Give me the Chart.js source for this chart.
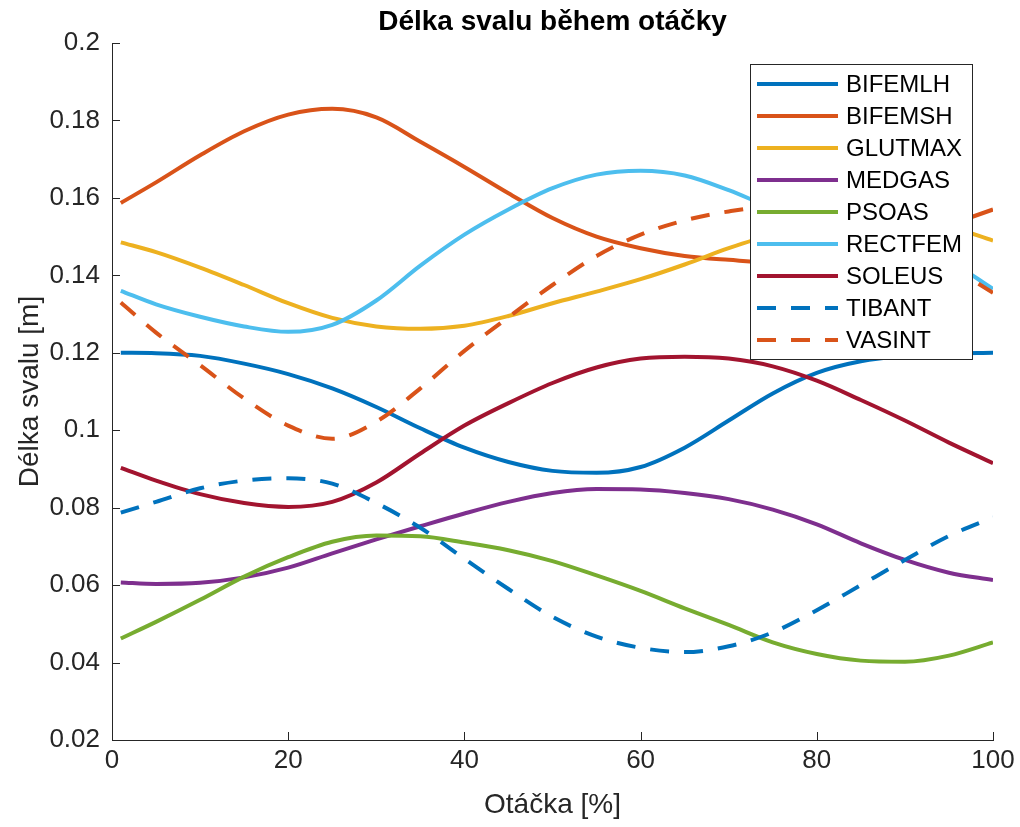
<!DOCTYPE html>
<html><head><meta charset="utf-8">
<script src="https://cdn.jsdelivr.net/npm/chart.js@4.4.1/dist/chart.umd.min.js"></script>
<style>html,body{margin:0;padding:0;background:#fff;}canvas{display:block;}</style>
</head><body>
<canvas id="c" width="1020" height="827"></canvas>
<script>
const xPct = [1,5,10,15,20,25,30,35,40,45,50,55,60,65,70,75,80,85,90,95,100];
const BIFEMLH = [0.1200,0.1199,0.1192,0.1172,0.1145,0.1108,0.1060,0.1005,0.0955,0.0918,0.0895,0.0890,0.0905,0.0955,0.1025,0.1095,0.1148,0.1178,0.1192,0.1198,0.1200];
const BIFEMSH = [0.1587,0.1640,0.1710,0.1772,0.1815,0.1830,0.1808,0.1745,0.1680,0.1612,0.1548,0.1500,0.1470,0.1450,0.1440,0.1433,0.1437,0.1460,0.1490,0.1530,0.1570];
const GLUTMAX = [0.1485,0.1460,0.1420,0.1375,0.1328,0.1290,0.1268,0.1262,0.1270,0.1295,0.1328,0.1358,0.1390,0.1428,0.1470,0.1505,0.1527,0.1537,0.1537,0.1525,0.1490];
const MEDGAS  = [0.0607,0.0603,0.0606,0.0620,0.0645,0.0682,0.0718,0.0752,0.0785,0.0815,0.0838,0.0848,0.0847,0.0838,0.0822,0.0795,0.0757,0.0708,0.0665,0.0632,0.0613];
const PSOAS   = [0.0462,0.0505,0.0562,0.0622,0.0672,0.0712,0.0728,0.0726,0.0710,0.0690,0.0662,0.0625,0.0585,0.0540,0.0497,0.0452,0.0422,0.0405,0.0402,0.0418,0.0452];
const RECTFEM = [0.1360,0.1325,0.1293,0.1268,0.1254,0.1272,0.1335,0.1425,0.1505,0.1570,0.1625,0.1660,0.1670,0.1658,0.1620,0.1573,0.1535,0.1497,0.1462,0.1435,0.1365];
const SOLEUS  = [0.0903,0.0870,0.0835,0.0812,0.0802,0.0815,0.0865,0.0940,0.1012,0.1070,0.1122,0.1162,0.1185,0.1190,0.1185,0.1165,0.1128,0.1078,0.1025,0.0968,0.0915];
const TIBANT  = [0.0787,0.0815,0.0850,0.0870,0.0876,0.0862,0.0812,0.0748,0.0668,0.0590,0.0518,0.0467,0.0438,0.0427,0.0442,0.0478,0.0535,0.0600,0.0665,0.0727,0.0775];
const VASINT  = [0.1330,0.1252,0.1168,0.1082,0.1012,0.0978,0.1022,0.1108,0.1205,0.1292,0.1375,0.1450,0.1505,0.1542,0.1565,0.1577,0.1570,0.1540,0.1488,0.1425,0.1355];

const seriesNames = ['BIFEMLH','BIFEMSH','GLUTMAX','MEDGAS','PSOAS','RECTFEM','SOLEUS','TIBANT','VASINT'];
const seriesValues = [BIFEMLH,BIFEMSH,GLUTMAX,MEDGAS,PSOAS,RECTFEM,SOLEUS,TIBANT,VASINT];
const seriesColors = ['#0072BD','#D95319','#EDB120','#7E2F8E','#77AC30','#4DBEEE','#A2142F','#0072BD','#D95319'];
const seriesDashed = [false,false,false,false,false,false,false,true,true];

const xTickValues = [0,20,40,60,80,100];
const xTickLabels = ['0','20','40','60','80','100'];
const yTickValues = [0.02,0.04,0.06,0.08,0.1,0.12,0.14,0.16,0.18,0.2];
const yTickLabels = ['0.02','0.04','0.06','0.08','0.1','0.12','0.14','0.16','0.18','0.2'];

const titleText = 'Délka svalu během otáčky';
const xTitle = 'Otáčka [%]';
const yTitle = 'Délka svalu [m]';

const FONT = '"Liberation Sans", Arial, Helvetica, sans-serif';
const AX = '#262626';
const DASH = [19, 15];

const datasets = seriesNames.map((name, i) => ({
  label: name,
  data: xPct.map((x, j) => ({x: x, y: seriesValues[i][j]})),
  borderColor: seriesColors[i],
  backgroundColor: seriesColors[i],
  borderWidth: 4,
  borderDash: seriesDashed[i] ? DASH : [],
  borderCapStyle: 'butt',
  pointRadius: 0,
  pointHoverRadius: 0,
  fill: false,
  cubicInterpolationMode: 'monotone',
  order: seriesNames.length - i
}));

const matlabDecor = {
  id: 'matlabDecor',
  afterDatasetsDraw(chart) {
    const ctx = chart.ctx, a = chart.chartArea;
    const xs = chart.scales.x, ys = chart.scales.y;
    ctx.save();
    // inward ticks
    ctx.strokeStyle = AX; ctx.lineWidth = 1; ctx.setLineDash([]);
    ctx.beginPath();
    xTickValues.forEach(v => { const p = Math.round(xs.getPixelForValue(v)) + 0.5; ctx.moveTo(p, a.bottom); ctx.lineTo(p, a.bottom - 8); });
    yTickValues.forEach(v => { const p = Math.round(ys.getPixelForValue(v)) + 0.5; ctx.moveTo(a.left, p); ctx.lineTo(a.left + 8, p); });
    ctx.stroke();
    // title
    ctx.fillStyle = '#000';
    ctx.font = 'bold 28px ' + FONT;
    ctx.textAlign = 'center'; ctx.textBaseline = 'middle';
    ctx.fillText(titleText, (a.left + a.right) / 2, 22);
    // legend
    const lx = 750.5, ly = 64.5, lw = 222, lh = 295;
    ctx.fillStyle = '#fff';
    ctx.fillRect(lx, ly, lw, lh);
    ctx.strokeStyle = AX; ctx.lineWidth = 1;
    ctx.strokeRect(lx, ly, lw, lh);
    ctx.font = '24px ' + FONT;
    ctx.textAlign = 'left'; ctx.textBaseline = 'middle';
    chart.data.datasets.forEach((ds, i) => {
      const y = 84 + i * 32;
      ctx.beginPath();
      ctx.strokeStyle = ds.borderColor; ctx.lineWidth = 4;
      ctx.setLineDash(ds.borderDash || []);
      ctx.lineCap = 'butt';
      ctx.moveTo(757, y); ctx.lineTo(838, y);
      ctx.stroke();
      ctx.setLineDash([]);
      ctx.fillStyle = '#000';
      ctx.fillText(ds.label, 846, y + 1);
    });
    ctx.restore();
  }
};

new Chart(document.getElementById('c'), {
  type: 'line',
  data: { datasets },
  options: {
    responsive: false,
    animation: false,
    devicePixelRatio: 1,
    layout: { padding: { top: 43, right: 27, left: 0, bottom: 0 } },
    plugins: { legend: { display: false }, title: { display: false }, tooltip: { enabled: false } },
    scales: {
      x: {
        type: 'linear', min: 0, max: 100,
        afterBuildTicks: s => { s.ticks = xTickValues.map(v => ({ value: v })); },
        afterFit: s => { s.height = 87; },
        ticks: { callback: (v, i) => xTickLabels[i], font: { family: FONT, size: 26 }, color: AX, padding: 5, maxRotation: 0, autoSkip: false },
        grid: { display: true, drawOnChartArea: false, drawTicks: false },
        border: { display: true, color: AX, width: 1 },
        title: { display: true, text: xTitle, font: { family: FONT, size: 28 }, color: AX, padding: { top: 5, bottom: 5 } }
      },
      y: {
        type: 'linear', min: 0.02, max: 0.2,
        afterBuildTicks: s => { s.ticks = yTickValues.map(v => ({ value: v })); },
        afterFit: s => { s.width = 112; },
        ticks: { callback: (v, i) => yTickLabels[i], font: { family: FONT, size: 26 }, color: AX, padding: 12, autoSkip: false },
        grid: { display: true, drawOnChartArea: false, drawTicks: false },
        border: { display: true, color: AX, width: 1 },
        title: { display: true, text: yTitle, font: { family: FONT, size: 28 }, color: AX, padding: { top: 13, bottom: 0 } }
      }
    }
  },
  plugins: [matlabDecor]
});
</script>
</body></html>
